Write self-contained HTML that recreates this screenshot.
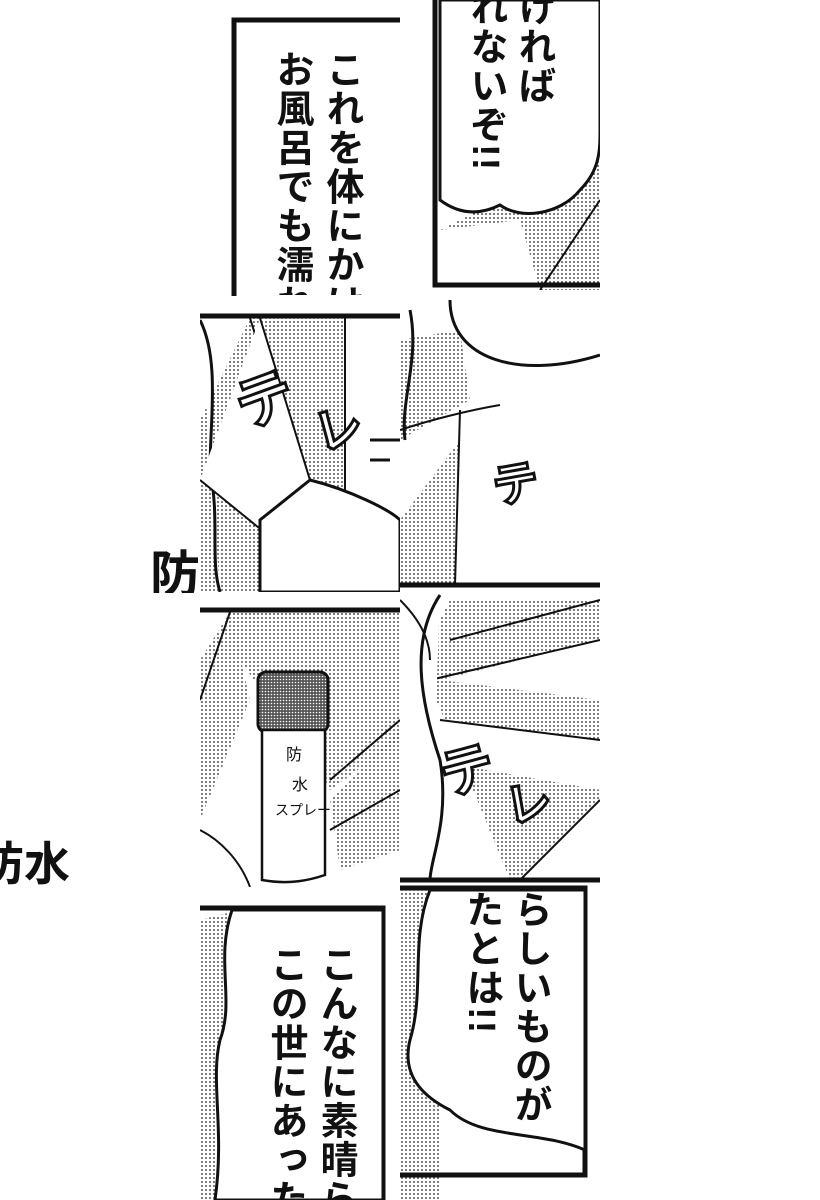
<!DOCTYPE html>
<html><head><meta charset="utf-8">
<style>
html,body{margin:0;padding:0;background:#fff;width:820px;height:1200px;overflow:hidden;position:relative}
.clip{position:absolute;overflow:hidden}
.v{position:absolute;writing-mode:vertical-rl;font-family:"Liberation Sans","Noto Sans CJK JP",sans-serif;font-weight:bold;font-size:38px;line-height:50px;color:#111;letter-spacing:1px;white-space:nowrap}
.h{position:absolute;font-family:"Liberation Sans","Noto Sans CJK JP",sans-serif;font-weight:bold;color:#111}
</style></head><body>
<svg width="820" height="1200" style="position:absolute;left:0;top:0">
<defs>
<pattern id="t" width="4" height="4" patternUnits="userSpaceOnUse"><circle cx="2" cy="2" r="0.9" fill="#222"/></pattern>
<pattern id="d" width="3" height="3" patternUnits="userSpaceOnUse"><rect width="3" height="3" fill="#555"/><circle cx="1.5" cy="1.5" r="0.8" fill="#fff"/></pattern>
<clipPath id="c1"><rect x="200" y="0" width="200" height="296"/></clipPath>
<clipPath id="c2"><rect x="400" y="0" width="200" height="290"/></clipPath>
<clipPath id="c3"><rect x="200" y="296" width="200" height="296"/></clipPath>
<clipPath id="c4"><rect x="400" y="296" width="200" height="294"/></clipPath>
<clipPath id="c5"><rect x="200" y="592" width="200" height="295"/></clipPath>
<clipPath id="c6"><rect x="400" y="590" width="200" height="297"/></clipPath>
<clipPath id="c7"><rect x="200" y="887" width="200" height="313"/></clipPath>
<clipPath id="c8"><rect x="400" y="885" width="200" height="315"/></clipPath>
</defs>
<g stroke="#111" stroke-width="3" fill="none">
<g clip-path="url(#c1)">
<rect x="234" y="20" width="200" height="290" fill="#fff" stroke-width="5"/>
</g>
<g clip-path="url(#c2)">
<polygon points="440,230 600,150 600,290 440,290" fill="url(#t)" stroke="none"/>
<polygon points="440,290 440,230 520,220 540,290" fill="#fff" stroke="none"/>
<path d="M540,290 L600,200" stroke-width="2"/>
<path d="M435,0 L435,285 L600,285" stroke-width="5"/>
<path d="M440,200 C460,215 480,215 500,205 C520,220 560,215 580,190 C600,170 600,150 600,130 L600,0 L440,0 Z" fill="#fff"/>
</g>
<g clip-path="url(#c3)">
<rect x="200" y="296" width="200" height="296" fill="#fff" stroke="none"/>
<polygon points="250,318 345,318 345,592 200,592 200,420" fill="url(#t)" stroke="none"/>
<path d="M200,316 L400,316" stroke-width="5"/>
<path d="M250,318 L300,480 L330,530" stroke-width="2"/>
<path d="M345,318 L345,500" stroke-width="2"/>
<path d="M200,320 C220,360 210,420 210,470 C220,520 210,560 220,592" fill="#fff"/>
<path d="M260,318 L310,480 C330,530 300,560 280,545 L200,480" fill="#fff" stroke-width="2"/>
<path d="M310,480 C350,490 390,510 400,520 L400,592 L260,592 L260,520 Z" fill="#fff"/>
<path d="M370,460 L390,460 M370,440 L400,440" stroke-width="3"/>
</g>
<g clip-path="url(#c4)">
<rect x="400" y="296" width="200" height="294" fill="#fff" stroke="none"/>
<polygon points="400,340 460,330 470,400 400,440" fill="url(#t)" stroke="none"/>
<polygon points="400,520 460,440 455,585 400,585" fill="url(#t)" stroke="none"/>
<path d="M400,585 L600,585" stroke-width="5"/>
<path d="M450,300 C450,360 520,380 600,355" stroke-width="3"/>
<path d="M400,430 C430,420 470,410 500,405" stroke-width="2"/>
<path d="M460,410 L455,585" stroke-width="2"/>
<path d="M410,310 C420,360 400,400 405,440"/>
</g>
<g clip-path="url(#c5)">
<rect x="200" y="592" width="200" height="295" fill="#fff" stroke="none"/>
<polygon points="230,612 400,612 400,740 330,790 240,660" fill="url(#t)" stroke="none"/>
<polygon points="200,660 230,612 250,700 200,820" fill="url(#t)" stroke="none"/>
<polygon points="330,800 400,730 400,850 340,870" fill="url(#t)" stroke="none"/>
<path d="M200,610 L400,610" stroke-width="5"/>
<path d="M230,612 L200,700 M330,780 L400,720 M330,830 L400,790" stroke-width="2"/>
<rect x="258" y="672" width="70" height="60" rx="8" fill="url(#d)"/>
<path d="M262,730 L262,880 C290,885 310,880 325,875 L325,730 Z" fill="#fff" stroke-width="2.5"/>
<path d="M200,830 C220,840 240,860 250,887" stroke-width="2"/>
</g>
<g clip-path="url(#c6)">
<rect x="400" y="590" width="200" height="297" fill="#fff" stroke="none"/>
<polygon points="450,600 600,600 600,880 510,880 420,660" fill="url(#t)" stroke="none"/>
<polygon points="440,680 600,640 600,700" fill="#fff" stroke="none"/>
<polygon points="440,720 600,740 600,790 430,760" fill="#fff" stroke="none"/>
<polygon points="520,880 600,800 600,880" fill="#fff" stroke="none"/>
<path d="M400,880 L600,880" stroke-width="5"/>
<path d="M600,600 L450,640 M430,680 L600,640 M440,720 L600,740 M520,880 L600,800" stroke-width="2"/>
<path d="M440,595 C410,640 420,700 440,760 C450,820 430,860 430,880" stroke-width="3" fill="#fff"/>
<path d="M400,600 C420,620 430,640 430,660" stroke-width="2"/>
</g>
<g clip-path="url(#c7)">
<polygon points="200,920 240,910 240,1200 200,1200" fill="url(#t)" stroke="none"/>
<path d="M200,908 L383,908 L383,1200" stroke-width="5"/>
<path d="M232,910 C215,960 235,1000 220,1040 C210,1080 225,1130 215,1200 L383,1200 L383,910 Z" fill="#fff" stroke-width="3"/>
</g>
<g clip-path="url(#c8)">
<polygon points="400,890 440,890 440,1200 400,1200" fill="url(#t)" stroke="none"/>
<path d="M400,888 L585,888 L585,1175 L400,1175" stroke-width="5"/>
<path d="M430,890 C410,940 425,990 410,1040 C400,1080 430,1100 450,1110 C480,1140 540,1130 585,1150 L585,890 Z" fill="#fff" stroke-width="3"/>
</g>
</g>
<g font-family="Liberation Sans,Noto Sans CJK JP,sans-serif" font-weight="bold" fill="#fff" stroke="#111" stroke-width="3">
<text x="236" y="420" font-size="58" transform="rotate(-20 265 400)">テ</text>
<text x="315" y="445" font-size="48" transform="rotate(-15 340 430)">レ</text>
<text x="492" y="500" font-size="46" transform="rotate(-10 515 480)">テ</text>
<text x="440" y="790" font-size="54" transform="rotate(-15 465 770)">テ</text>
<text x="505" y="820" font-size="46" transform="rotate(-10 525 800)">レ</text>
</g>
<g font-family="Liberation Sans,Noto Sans CJK JP,sans-serif" fill="#111" font-size="16">
<text x="286" y="760">防</text><text x="292" y="790">水</text>
<text x="275" y="815" font-size="14">スプレー</text>
</g>
</svg>
<div class="clip" style="left:236px;top:0;width:164px;height:295px">
<div class="v" style="left:80px;top:50px">これを体にかけ</div>
<div class="v" style="left:30px;top:50px">お風呂でも濡れ</div>
</div>
<div class="clip" style="left:440px;top:0;width:160px;height:285px">
<div class="v" style="left:68px;top:-12px">ければ</div>
<div class="v" style="left:20px;top:-12px">れないぞ!!</div>
</div>
<div class="clip" style="left:200px;top:910px;width:181px;height:290px">
<div class="v" style="left:110px;top:35px">こんなに素晴ら</div>
<div class="v" style="left:60px;top:35px">この世にあった</div>
</div>
<div class="clip" style="left:400px;top:890px;width:183px;height:283px">
<div class="v" style="left:104px;top:0px">らしいものが</div>
<div class="v" style="left:56px;top:0px">たとは!!</div>
</div>
<div class="h" style="left:150px;top:535px;font-size:50px;width:50px;overflow:hidden;height:58px">防</div>
<div class="h" style="left:-22px;top:828px;font-size:46px">防水</div>
</body></html>
